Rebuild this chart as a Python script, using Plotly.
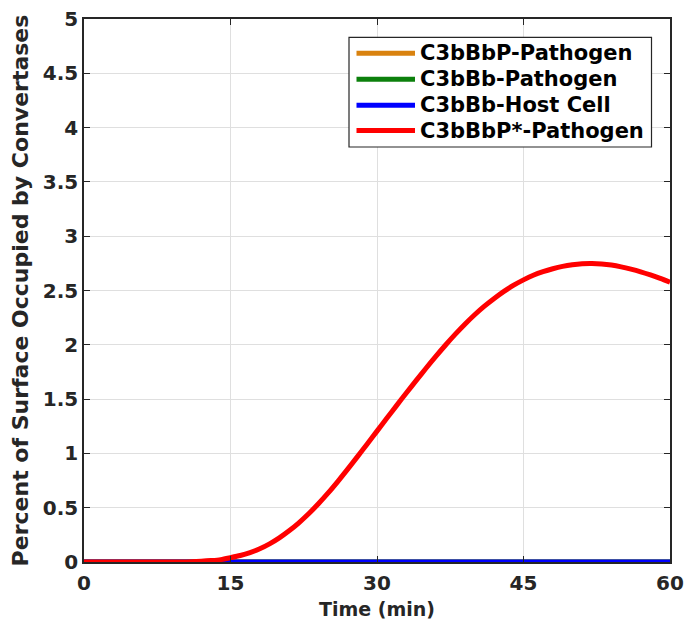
import plotly.graph_objects as go

time_min = [0, 5, 10, 11, 12, 13, 14, 15, 16, 17, 18, 19, 20, 21, 22, 23, 24, 25, 26, 27, 28, 29, 30,
            31, 32, 33, 34, 35, 36, 37, 38, 39, 40, 41, 42, 43, 44, 45, 46, 47, 48, 49, 50,
            51, 52, 53, 54, 55, 56, 57, 58, 59, 60]
c3bbbp_star_pathogen = [0, 0, 0.001, 0.003, 0.007, 0.013, 0.022, 0.04, 0.06, 0.087, 0.122, 0.167, 0.222,
                        0.287, 0.361, 0.444, 0.536, 0.636, 0.743, 0.855, 0.970, 1.087, 1.205,
                        1.323, 1.440, 1.556, 1.670, 1.782, 1.891, 1.996, 2.096, 2.190, 2.277,
                        2.356, 2.427, 2.492, 2.549, 2.598, 2.640, 2.673, 2.700, 2.722, 2.737,
                        2.746, 2.748, 2.744, 2.734, 2.718, 2.697, 2.672, 2.643, 2.611, 2.576]
c3bbbp_pathogen = [0.0] * len(time_min)
c3bbb_pathogen = [0.0] * len(time_min)
c3bbb_host = [0.0] * len(time_min)

x_ticks = [0, 15, 30, 45, 60]
y_ticks = [0, 0.5, 1, 1.5, 2, 2.5, 3, 3.5, 4, 4.5, 5]
y_ticktext = ["0", "0.5", "1", "1.5", "2", "2.5", "3", "3.5", "4", "4.5", "5"]

series_names = ["C3bBbP-Pathogen", "C3bBb-Pathogen", "C3bBb-Host Cell", "C3bBbP*-Pathogen"]
series_values = [c3bbbp_pathogen, c3bbb_pathogen, c3bbb_host, c3bbbp_star_pathogen]
series_colors = ["#D9820F", "#0C800C", "#0000FF", "#FF0000"]

# plot-area geometry in pixels (for placing the legend box in paper coordinates)
L, R, T, B = 84, 670, 19, 562
W, H = 685, 623


def px(x):
    return (x - L) / (R - L)


def py(y):
    return (B - y) / (B - T)


fig = go.Figure()
for name, vals, col in zip(series_names, series_values, series_colors):
    fig.add_trace(go.Scatter(x=time_min, y=vals, mode="lines", name=name, showlegend=False,
                             line=dict(color=col, width=5, shape="spline", smoothing=0.8)))

txt = "#262626"
tick_font = dict(family="DejaVu Sans", size=20, color=txt, weight="bold")

# legend (box, line samples, labels)
shapes = [dict(type="rect", xref="paper", yref="paper", x0=px(349), x1=px(651.5),
               y0=py(147), y1=py(37.3), line=dict(color=txt, width=1.2), fillcolor="white",
               layer="above")]
annotations = []
row_y = [53.3, 79.3, 105.3, 130.5]
for name, col, ry in zip(series_names, series_colors, row_y):
    shapes.append(dict(type="line", xref="paper", yref="paper", x0=px(356.5), x1=px(415),
                       y0=py(ry), y1=py(ry), line=dict(color=col, width=5), layer="above"))
    annotations.append(dict(xref="paper", yref="paper", x=px(417.5), y=py(ry), text=name,
                            showarrow=False, xanchor="left", yanchor="middle",
                            font=dict(family="DejaVu Sans", size=21, color="black", weight="bold")))

fig.update_layout(
    width=W, height=H,
    margin=dict(l=L, r=W - R, t=T, b=H - B, autoexpand=False),
    paper_bgcolor="white", plot_bgcolor="white",
    font=tick_font,
    shapes=shapes,
    annotations=annotations,
)
fig.update_xaxes(range=[0, 60], tickvals=x_ticks, ticks="inside", ticklen=6, tickcolor=txt,
                 showline=True, linecolor=txt, linewidth=1.5, mirror="ticks", automargin=False,
                 showgrid=True, gridcolor="#DFDFDF", gridwidth=1, zeroline=False,
                 ticklabelstandoff=2,
                 title=dict(text="Time (min)", font=dict(family="DejaVu Sans", size=19, color=txt,
                                                         weight="bold"), standoff=9),
                 tickfont=tick_font)
fig.update_yaxes(range=[0, 5], tickvals=y_ticks, ticktext=y_ticktext, ticks="inside", ticklen=6,
                 tickcolor=txt, showline=True, linecolor=txt, linewidth=1.5, mirror="ticks",
                 automargin=False,
                 showgrid=True, gridcolor="#DFDFDF", gridwidth=1, zeroline=False,
                 title=dict(text="Percent of Surface Occupied by Convertases",
                            font=dict(family="DejaVu Sans", size=22, color=txt, weight="bold"),
                            standoff=8),
                 tickfont=tick_font)
fig.write_html("out.html")
